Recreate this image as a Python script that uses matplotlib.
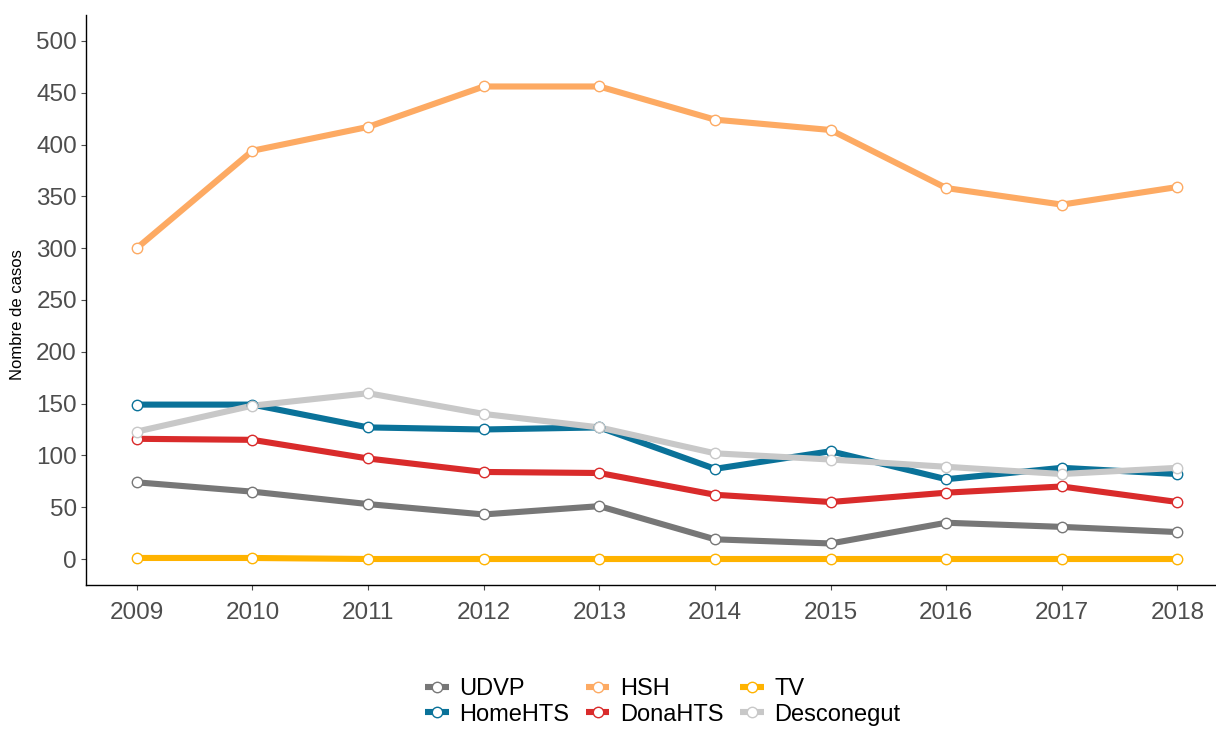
import matplotlib.pyplot as plt
from matplotlib.lines import Line2D

plt.rcParams['font.family'] = ['Liberation Sans', 'DejaVu Sans']

# data
years = [2009, 2010, 2011, 2012, 2013, 2014, 2015, 2016, 2017, 2018]
udvp = [74, 65, 53, 43, 51, 19, 15, 35, 31, 26]
hsh = [300, 394, 417, 456, 456, 424, 414, 358, 342, 359]
tv = [1, 1, 0, 0, 0, 0, 0, 0, 0, 0]
home_hts = [149, 149, 127, 125, 127, 87, 104, 77, 88, 82]
dona_hts = [116, 115, 97, 84, 83, 62, 55, 64, 70, 55]
desconegut = [123, 148, 160, 140, 127, 102, 96, 89, 82, 88]

series = [
    ('UDVP', udvp, '#777777'),
    ('HSH', hsh, '#FDAA63'),
    ('TV', tv, '#FFB300'),
    ('HomeHTS', home_hts, '#0A7299'),
    ('DonaHTS', dona_hts, '#D92B2B'),
    ('Desconegut', desconegut, '#C8C8C8'),
]

fig = plt.figure(figsize=(12.16, 7.31), dpi=100)
ax = fig.add_axes([0.0707, 0.1997, 0.929, 0.7798])

# lines first, then points on top (like geom_line + geom_point)
for i, (name, vals, col) in enumerate(series):
    ax.plot(years, vals, color=col, lw=4.4, solid_capstyle='butt', zorder=2 + i * 0.01)
for i, (name, vals, col) in enumerate(series):
    ax.plot(years, vals, ls='none', marker='o', ms=7.5, mfc='white', mec=col, mew=1.0,
            zorder=3 + i * 0.01)

ax.set_xlim(2008.56, 2018.33)
ax.set_ylim(-25.1, 525)
ax.set_xticks(years)
ax.set_yticks(range(0, 501, 50))
ax.tick_params(axis='both', labelsize=17.5, labelcolor='#4D4D4D', color='#4D4D4D',
               length=3.5, width=0.8, direction='out')
ax.tick_params(axis='x', pad=9)
ax.tick_params(axis='y', pad=3)
for s in ['top', 'right']:
    ax.spines[s].set_visible(False)
for s in ['left', 'bottom']:
    ax.spines[s].set_linewidth(1.0)
    ax.spines[s].set_color('black')
ax.set_ylabel('Nombre de casos', fontsize=12, color='black')
ax.yaxis.set_label_coords(-0.054, 0.475)

# legend filled by row: UDVP HSH TV / HomeHTS DonaHTS Desconegut
handles = {}
for name, vals, col in series:
    handles[name] = Line2D([], [], color=col, lw=4.4, marker='o', ms=7.5,
                           mfc='white', mec=col, mew=1.0, solid_capstyle='butt')
order = ['UDVP', 'HomeHTS', 'HSH', 'DonaHTS', 'TV', 'Desconegut']
fig.legend([handles[n] for n in order], order, loc='center', bbox_to_anchor=(0.545, 0.040),
           ncol=3, frameon=False, fontsize=17, handlelength=1.0, handletextpad=0.45,
           columnspacing=0.7, labelspacing=0.15, borderpad=0.2)

fig.savefig('out.png', dpi=100)
